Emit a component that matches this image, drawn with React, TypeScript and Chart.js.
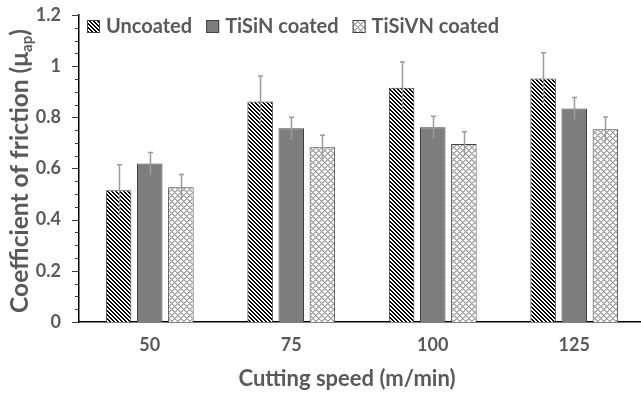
import React, { useEffect, useRef } from "react";
import { Chart, registerables } from "chart.js";

Chart.register(...registerables);

// Cutting speeds (m/min)
const speeds = ["50", "75", "100", "125"];

// Apparent coefficient of friction, mean and standard deviation
const seriesNames = ["Uncoated", "TiSiN coated", "TiSiVN coated"];
const uncoated = [0.515, 0.862, 0.916, 0.952];
const uncoatedErr = [0.1, 0.1, 0.1, 0.1];
const tisin = [0.62, 0.757, 0.761, 0.835];
const tisinErr = [0.043, 0.043, 0.043, 0.043];
const tisivn = [0.527, 0.683, 0.696, 0.753];
const tisivnErr = [0.05, 0.047, 0.048, 0.048];

const yMin = 0;
const yMax = 1.2;
const yStep = 0.2;
const yMinorStep = 0.05;

const xTitle = "Cutting speed (m/min)";
const yTitleMain = "Coefficient of friction (μ";
const yTitleSub = "ap";
const yTitleEnd = ")";

const FONT = "Lato, 'Open Sans', sans-serif";
const TEXT = "#595959";

function makeTile(size: number, draw: (ctx: CanvasRenderingContext2D) => void) {
  const c = document.createElement("canvas");
  c.width = size;
  c.height = size;
  const ctx = c.getContext("2d")!;
  draw(ctx);
  return ctx.createPattern(c, "repeat")!;
}

// Black/white downward diagonal stripes
function stripePattern() {
  return makeTile(4, (ctx) => {
    ctx.fillStyle = "#ffffff";
    ctx.fillRect(0, 0, 4, 4);
    ctx.fillStyle = "#000000";
    for (let y = 0; y < 4; y++) {
      for (let x = 0; x < 4; x++) {
        const d = (((x - y) % 4) + 4) % 4;
        if (d === 0 || d === 1) ctx.fillRect(x, y, 1, 1);
      }
    }
  });
}

// Mid grey with a faint dotted texture
function greyPattern() {
  return makeTile(4, (ctx) => {
    ctx.fillStyle = "#7f7f7f";
    ctx.fillRect(0, 0, 4, 4);
    ctx.fillStyle = "#737373";
    ctx.fillRect(0, 0, 1, 1);
    ctx.fillRect(2, 2, 1, 1);
  });
}

// Light diagonal lattice with white openings
function latticePattern() {
  return makeTile(6, (ctx) => {
    ctx.fillStyle = "#ffffff";
    ctx.fillRect(0, 0, 6, 6);
    ctx.fillStyle = "#9a9a9a";
    for (let y = 0; y < 6; y++) {
      for (let x = 0; x < 6; x++) {
        const a = (x + y) % 6;
        const b = (((x - y) % 6) + 6) % 6;
        if (a === 0 || b === 0) ctx.fillRect(x, y, 1, 1);
      }
    }
    ctx.fillStyle = "#c4c4c4";
    for (let y = 0; y < 6; y++) {
      for (let x = 0; x < 6; x++) {
        const a = (x + y) % 6;
        const b = (((x - y) % 6) + 6) % 6;
        if ((a === 1 || b === 1) && !(a === 0 || b === 0)) ctx.fillRect(x, y, 1, 1);
      }
    }
  });
}

const errorBars = {
  id: "errorBars",
  afterDatasetsDraw(chart: any) {
    const { ctx } = chart;
    const yScale = chart.scales.y;
    ctx.save();
    ctx.strokeStyle = "#9b9b9b";
    ctx.lineWidth = 1.5;
    chart.data.datasets.forEach((ds: any, i: number) => {
      const meta = chart.getDatasetMeta(i);
      meta.data.forEach((bar: any, j: number) => {
        const v = ds.data[j];
        const e = ds.errors[j];
        const x = Math.round(bar.x) + 0.5;
        const yTop = yScale.getPixelForValue(v + e);
        const yBot = yScale.getPixelForValue(v - e);
        ctx.beginPath();
        ctx.moveTo(x, yBot);
        ctx.lineTo(x, yTop);
        ctx.moveTo(x - 2.5, yTop);
        ctx.lineTo(x + 2.5, yTop);
        ctx.stroke();
      });
    });
    ctx.restore();
  },
};

const decorations = {
  id: "decorations",
  afterDraw(chart: any) {
    const { ctx, chartArea } = chart;
    const yScale = chart.scales.y;
    ctx.save();

    // Major and minor ticks on the value axis
    ctx.strokeStyle = "#3a3a3a";
    ctx.lineWidth = 1;
    const n = Math.round((yMax - yMin) / yMinorStep);
    for (let k = 0; k <= n; k++) {
      const v = yMin + k * yMinorStep;
      const major = k % Math.round(yStep / yMinorStep) === 0;
      const y = Math.round(yScale.getPixelForValue(v)) + 0.5;
      ctx.beginPath();
      ctx.moveTo(chartArea.left - (major ? 7 : 4), y);
      ctx.lineTo(chartArea.left, y);
      ctx.stroke();
    }

    // Axis titles
    ctx.fillStyle = TEXT;
    ctx.font = `bold 22px ${FONT}`;
    ctx.textAlign = "center";
    ctx.textBaseline = "middle";
    ctx.fillText(xTitle, 347, 379);

    ctx.translate(20, 171);
    ctx.rotate(-Math.PI / 2);
    const mainFont = `bold 24.5px ${FONT}`;
    const subFont = `bold 15px ${FONT}`;
    ctx.font = mainFont;
    const w1 = ctx.measureText(yTitleMain).width;
    const w3 = ctx.measureText(yTitleEnd).width;
    ctx.font = subFont;
    const w2 = ctx.measureText(yTitleSub).width;
    let x0 = -(w1 + w2 + w3) / 2;
    ctx.textAlign = "left";
    ctx.textBaseline = "alphabetic";
    ctx.font = mainFont;
    ctx.fillText(yTitleMain, x0, 8);
    x0 += w1;
    ctx.font = subFont;
    ctx.fillText(yTitleSub, x0, 12);
    x0 += w2;
    ctx.font = mainFont;
    ctx.fillText(yTitleEnd, x0, 8);
    ctx.setTransform(1, 0, 0, 1, 0, 0);

    // Legend
    ctx.font = `bold 20px ${FONT}`;
    ctx.textBaseline = "middle";
    ctx.textAlign = "left";
    let lx = 87;
    const ly = 20;
    chart.data.datasets.forEach((ds: any) => {
      ctx.fillStyle = ds.backgroundColor;
      ctx.fillRect(lx, ly, 13, 13);
      ctx.strokeStyle = "#404040";
      ctx.lineWidth = 1;
      ctx.strokeRect(lx + 0.5, ly + 0.5, 12, 12);
      ctx.fillStyle = TEXT;
      const tx = lx + 19;
      ctx.fillText(ds.label, tx, ly + 7);
      lx = tx + ctx.measureText(ds.label).width + 14;
    });

    ctx.restore();
  },
};

export default function App() {
  const ref = useRef<HTMLCanvasElement>(null);

  useEffect(() => {
    document.body.style.margin = "0";
    const canvas = ref.current!;
    const barOpts = {
      borderColor: "#404040",
      borderWidth: 1,
      categoryPercentage: 0.66,
      barPercentage: 0.82,
    };
    const chart = new Chart(canvas, {
      type: "bar",
      data: {
        labels: speeds,
        datasets: [
          { label: seriesNames[0], data: uncoated, errors: uncoatedErr, backgroundColor: stripePattern(), ...barOpts } as any,
          { label: seriesNames[1], data: tisin, errors: tisinErr, backgroundColor: greyPattern(), ...barOpts } as any,
          { label: seriesNames[2], data: tisivn, errors: tisivnErr, backgroundColor: latticePattern(), ...barOpts } as any,
        ],
      },
      options: {
        responsive: false,
        animation: false,
        devicePixelRatio: 1,
        layout: { padding: { top: 15, left: 0, right: 0, bottom: 0 } },
        plugins: { legend: { display: false }, tooltip: { enabled: false } },
        scales: {
          x: {
            grid: { display: false, drawTicks: false },
            border: { color: "#000000", width: 1.5 },
            ticks: { color: TEXT, font: { family: FONT, size: 18, weight: "bold" }, padding: 12 },
            afterFit: (s: any) => {
              s.height = 72;
              s.paddingLeft = 0;
              s.paddingRight = 0;
            },
          },
          y: {
            min: yMin,
            max: yMax,
            grid: { display: false, drawTicks: false },
            border: { color: "#000000", width: 1.5 },
            ticks: {
              stepSize: yStep,
              color: TEXT,
              font: { family: FONT, size: 18, weight: "bold" },
              padding: 18,
              callback: (v: any) => String(Math.round(Number(v) * 10) / 10),
            },
            afterFit: (s: any) => {
              s.width = 79;
              s.paddingTop = 0;
              s.paddingBottom = 0;
            },
          },
        },
      },
      plugins: [errorBars, decorations],
    });
    return () => chart.destroy();
  }, []);

  return (
    <div style={{ width: 641, height: 394, overflow: "hidden", position: "relative" }}>
      <canvas ref={ref} width={645} height={394} style={{ display: "block" }} />
    </div>
  );
}
